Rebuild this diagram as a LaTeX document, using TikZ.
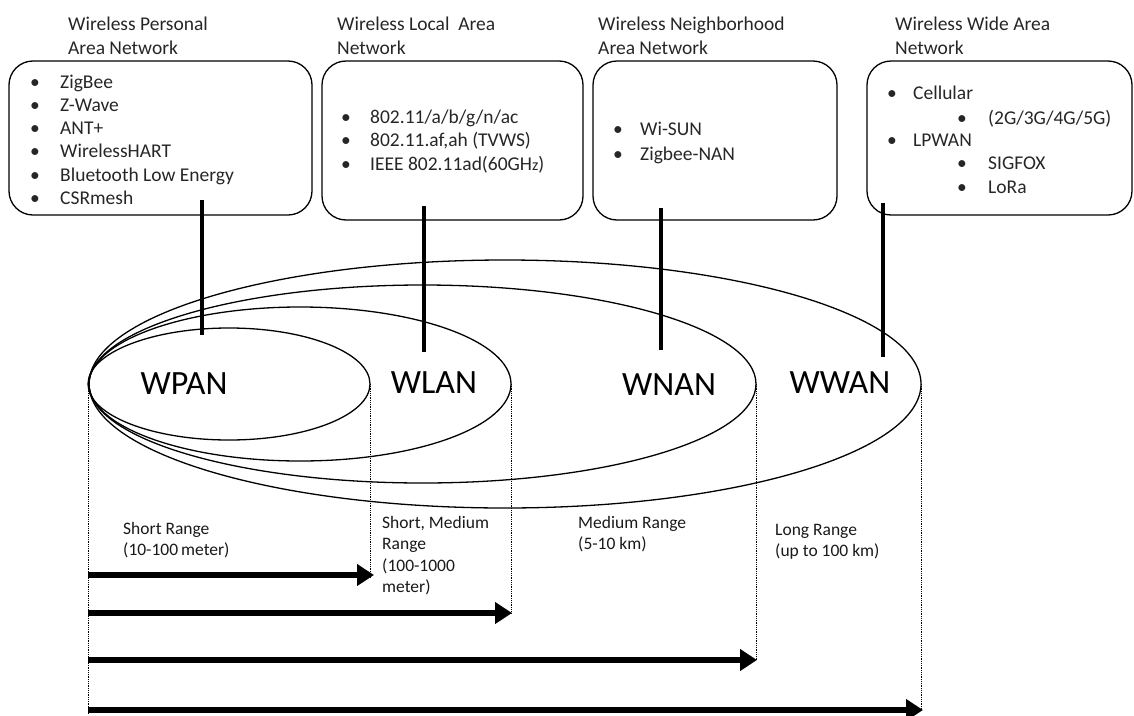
\documentclass[tikz,border=0pt]{standalone}
\usepackage{fontspec}
\setmainfont{Carlito}
\usetikzlibrary{arrows.meta}
\begin{document}
\begin{tikzpicture}[x=1pt,y=-1pt,
  netbox/.style={draw, line width=1.3pt, rounded corners=24pt},
  zone/.style={draw, line width=1.3pt},
  link/.style={line width=4.5pt},
  reach/.style={line width=6.5pt, -{Triangle[length=17pt,width=21pt]}},
  guide/.style={densely dotted, line width=0.8pt},
  title/.style={anchor=base west, inner sep=0pt, align=left, text=black!85,
                font=\fontsize{19.5}{24}\selectfont},
  item/.style={anchor=base west, inner sep=0pt, text=black!85,
               font=\fontsize{19.5}{22}\selectfont},
  bul/.style={anchor=base, inner sep=0pt, text=black!85,
              font=\fontsize{19.5}{22}\selectfont},
  big/.style={anchor=center, inner sep=0pt, font=\fontsize{34}{40}\selectfont},
  rangelbl/.style={anchor=base west, inner sep=0pt, align=left, text=black!90,
                font=\fontsize{17.5}{21.3}\selectfont}
]
\useasboundingbox (0,0) rectangle (1134,715);

% network family titles (anchored at the baseline of their last line)
\node[title] (t1) at (68,54.5) {Wireless Personal\\Area Network};
\node[title] (t2) at (337,54.5) {Wireless Local\ \ Area\\Network};
\node[title] (t3) at (598,54.5) {Wireless Neighborhood\\Area Network};
\node[title] (t4) at (895,54.5) {Wireless Wide Area\\Network};

% technology boxes
\draw[netbox] (9,61) rectangle (312,215);
\draw[netbox] (322,61) rectangle (583,220);
\draw[netbox] (593,61) rectangle (837,220);
\draw[netbox] (867,61) rectangle (1132,215);

\foreach \t [count=\i] in {ZigBee,Z-Wave,ANT+,WirelessHART,Bluetooth Low Energy,CSRmesh}{
  \node[bul] (pb\i) at (35,64.7+23.3*\i) {\textbullet};
  \node[item] (pi\i) at (60,64.7+23.3*\i) {\t};
}
\foreach \t [count=\i] in {802.11/a/b/g/n/ac,{802.11.af,ah (TVWS)},IEEE 802.11ad(60GH{\fontsize{16}{20}\selectfont z})}{
  \node[bul] (lb\i) at (346,99.5+23.5*\i) {\textbullet};
  \node[item] (li\i) at (370,99.5+23.5*\i) {\t};
}
\foreach \t [count=\i] in {Wi-SUN,Zigbee-NAN}{
  \node[bul] (nb\i) at (618,110+25*\i) {\textbullet};
  \node[item] (ni\i) at (640,110+25*\i) {\t};
}
\node[bul] (wb1) at (892,99) {\textbullet};
\node[item] (wi1) at (913,99) {Cellular};
\node[bul] (wb2) at (962,124) {\textbullet};
\node[item] (wi2) at (988,124) {(2G/3G/4G/5G)};
\node[bul] (wb3) at (892,146) {\textbullet};
\node[item] (wi3) at (913,146) {LPWAN};
\node[bul] (wb4) at (962,169) {\textbullet};
\node[item] (wi4) at (988,169) {SIGFOX};
\node[bul] (wb5) at (962,193) {\textbullet};
\node[item] (wi5) at (988,193) {LoRa};

% nested coverage areas
\draw[zone] (505,384) ellipse [x radius=416, y radius=124];
\draw[zone] (422.5,384) ellipse [x radius=333.5, y radius=99];
\draw[zone] (300,384) ellipse [x radius=211, y radius=77];
\draw[zone] (229,384) ellipse [x radius=141, y radius=56];

\node[big] (wpan) at (184,384) {WPAN};
\node[big] (wlan) at (434,383) {WLAN};
\node[big] (wnan) at (669,385) {WNAN};
\node[big] (wwan) at (840,383) {WWAN};

% links from boxes to areas
\coordinate (a1) at (202,200); \coordinate (e1) at (202,335);
\coordinate (a2) at (424,206); \coordinate (e2) at (424,352);
\coordinate (a3) at (661,208); \coordinate (e3) at (661,350);
\coordinate (a4) at (883,203); \coordinate (e4) at (883,357);
\foreach \i in {1,...,4} \draw[link] (a\i) -- (e\i);

% range guides
\coordinate (g0) at (88,384);  \coordinate (h0) at (88,715);
\coordinate (g1) at (370,384); \coordinate (h1) at (370,577);
\coordinate (g2) at (511,384); \coordinate (h2) at (511,613);
\coordinate (g3) at (756,384); \coordinate (h3) at (756,660);
\coordinate (g4) at (921,384); \coordinate (h4) at (921,710);
\foreach \i in {0,...,4} \draw[guide] (g\i) -- (h\i);

% range arrows
\coordinate (s1) at (88,575); \coordinate (r1) at (374,575);
\coordinate (s2) at (88,613); \coordinate (r2) at (512,613);
\coordinate (s3) at (88,660); \coordinate (r3) at (757,660);
\coordinate (s4) at (88,710); \coordinate (r4) at (923,710);
\foreach \i in {1,...,4} \draw[reach] (s\i) -- (r\i);

\node[rangelbl] (q1) at (123,555.5) {Short Range\\(10-100\,meter)};
\node[rangelbl] (q2) at (382,592.5) {Short, Medium\\Range\\(100-1000\\meter)};
\node[rangelbl] (q3) at (578,549.5) {Medium Range\\(5-10 km)};
\node[rangelbl] (q4) at (775,556.5) {Long Range\\(up to 100 km)};
\end{tikzpicture}
\end{document}
